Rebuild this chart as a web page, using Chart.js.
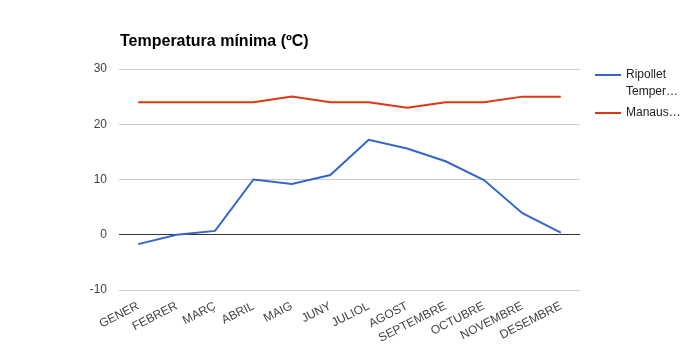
<!DOCTYPE html>
<html>
<head>
<meta charset="utf-8">
<style>
  html, body { margin: 0; padding: 0; background: #fff; }
  #wrap { width: 700px; height: 360px; position: relative; }
</style>
<script src="https://cdn.jsdelivr.net/npm/chart.js@4/dist/chart.umd.min.js"></script>
</head>
<body>
<div id="wrap"><canvas id="c" width="700" height="360"></canvas></div>
<script>
const chartTitle = "Temperatura mínima (ºC)";
const months = ["GENER", "FEBRER", "MARÇ", "ABRIL", "MAIG", "JUNY", "JULIOL", "AGOST", "SEPTEMBRE", "OCTUBRE", "NOVEMBRE", "DESEMBRE"];
const ripolletLabel = "Ripollet Temperatura mínima (ºC)";
const ripolletValues = [-1.7, 0.0, 0.7, 10.0, 9.2, 10.8, 17.2, 15.6, 13.3, 9.9, 3.9, 0.4];
const manausLabel = "Manaus Temperatura mínima (ºC)";
const manausValues = [24, 24, 24, 24, 25, 24, 24, 23, 24, 24, 25, 25];
const legendTexts = [["Ripollet", "Temper…"], ["Manaus…"]];
const yTicks = [-10, 0, 10, 20, 30];

const FONT = "Arial, 'Liberation Sans', sans-serif";
const colors = ["#3366cc", "#dc3912"];

const overlay = {
  id: 'overlay',
  afterDraw(chart) {
    const ctx = chart.ctx;
    const area = chart.chartArea;
    ctx.save();
    // title
    ctx.font = "bold 16px " + FONT;
    ctx.fillStyle = "#000";
    ctx.textAlign = "left";
    ctx.textBaseline = "middle";
    ctx.fillText(chartTitle, area.left + 1, 42);
    // legend
    ctx.font = "12px " + FONT;
    ctx.fillStyle = "#222";
    let y = 75;
    chart.data.datasets.forEach((ds, i) => {
      ctx.strokeStyle = ds.borderColor;
      ctx.lineWidth = 2;
      ctx.beginPath();
      ctx.moveTo(area.right + 15, y);
      ctx.lineTo(area.right + 41, y);
      ctx.stroke();
      const lines = legendTexts[i];
      lines.forEach((t, j) => {
        ctx.fillText(t, area.right + 46, y + j * 17);
      });
      y += (lines.length - 1) * 17 + 21;
    });
    ctx.restore();
  }
};

new Chart(document.getElementById('c'), {
  type: 'line',
  data: {
    labels: months,
    datasets: [
      { label: ripolletLabel, data: ripolletValues, borderColor: colors[0], backgroundColor: colors[0], borderWidth: 2, pointRadius: 0, tension: 0, fill: false },
      { label: manausLabel, data: manausValues, borderColor: colors[1], backgroundColor: colors[1], borderWidth: 2, pointRadius: 0, tension: 0, fill: false }
    ]
  },
  options: {
    responsive: false,
    animation: false,
    devicePixelRatio: 1,
    layout: { padding: { left: 0, right: 120, top: 69, bottom: 0 } },
    plugins: {
      legend: { display: false },
      title: { display: false },
      tooltip: { enabled: false }
    },
    scales: {
      x: {
        offset: true,
        grid: { display: false, drawTicks: false },
        border: { display: false },
        ticks: {
          autoSkip: false,
          minRotation: 27,
          maxRotation: 27,
          padding: 9,
          color: "#444",
          font: { family: FONT, size: 12 }
        },
        afterFit(scale) { scale.height = 70; }
      },
      y: {
        min: -10,
        max: 30,
        afterBuildTicks(scale) { scale.ticks = yTicks.map(v => ({ value: v })); },
        grid: {
          drawTicks: false,
          color: ctx => (ctx.tick && ctx.tick.value === 0) ? "#333" : "#ccc",
          lineWidth: 1
        },
        border: { display: false },
        ticks: {
          padding: 12,
          color: "#444",
          font: { family: FONT, size: 12 }
        },
        afterFit(scale) { scale.width = 119; }
      }
    }
  },
  plugins: [overlay]
});
</script>
</body>
</html>
